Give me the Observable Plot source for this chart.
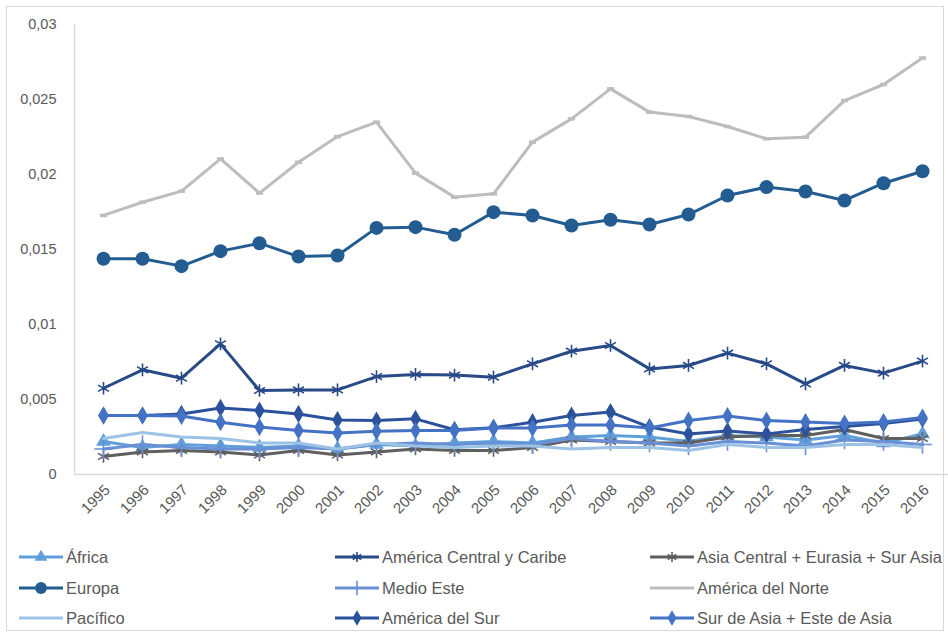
<!DOCTYPE html>
<html><head><meta charset="utf-8">
<script src="https://cdn.jsdelivr.net/npm/d3@7"></script>
<script src="https://cdn.jsdelivr.net/npm/@observablehq/plot@0.6"></script>
<style>
body{margin:0;background:#fff;}
#frame{position:absolute;left:6px;top:6px;width:938px;height:625px;border:1px solid #d9d9d9;box-sizing:border-box;}
#chart{position:absolute;left:0;top:0;}
#legend{position:absolute;left:0;top:0;font-family:"Liberation Sans",Arial,sans-serif;font-size:16.5px;color:#595959;}
.item{position:absolute;display:flex;align-items:center;white-space:nowrap;height:20px;}
.item svg{margin-right:2px;}
</style></head><body>
<div id="frame"></div><div id="chart"></div><div id="legend"></div>
<script>
const years = ["1995","1996","1997","1998","1999","2000","2001","2002","2003","2004","2005","2006","2007","2008","2009","2010","2011","2012","2013","2014","2015","2016"];
const yTicks = [0, 0.005, 0.01, 0.015, 0.02, 0.025, 0.03];

const seriesNames = ["África","América Central y Caribe","Asia Central + Eurasia + Sur Asia","Europa","Medio Este","América del Norte","Pacífico","América del Sur","Sur de Asia + Este de Asia"];
const seriesColors = ["#5fa0da","#284a87","#5f5f5f","#235c91","#6990d4","#bdbdbd","#9cc3e6","#2c529b","#4472c4"];
const seriesSymbols = ["triangle","asterisk","asterisk","circle","plus","dash",null,"diamond","diamond"];

const africa = [0.0022,0.0018,0.0020,0.0019,0.0018,0.0019,0.0017,0.0020,0.0019,0.0021,0.0022,0.0021,0.0025,0.0026,0.0025,0.0022,0.0026,0.0025,0.0023,0.0026,0.0021,0.0027];
const centralCaribe = [0.00575,0.00698,0.00642,0.00871,0.0056,0.00564,0.00564,0.00653,0.00667,0.00663,0.00649,0.00738,0.00822,0.0086,0.00704,0.00727,0.00809,0.00738,0.00604,0.00727,0.00676,0.00756];
const asiaCentral = [0.0012,0.0015,0.0016,0.0015,0.0013,0.0016,0.0013,0.0015,0.0017,0.0016,0.0016,0.0018,0.0023,0.0022,0.0021,0.0021,0.0025,0.0026,0.0026,0.0030,0.0024,0.0024];
const europa = [0.01438,0.01438,0.01389,0.01489,0.01542,0.01453,0.0146,0.01644,0.01649,0.01598,0.01749,0.01727,0.0166,0.01698,0.01667,0.01733,0.0186,0.01916,0.01887,0.01827,0.01942,0.02022];
const medioEste = [0.0017,0.0020,0.0018,0.0017,0.0017,0.0018,0.0017,0.0020,0.0021,0.0020,0.0021,0.0020,0.0024,0.0022,0.0021,0.0019,0.0022,0.0021,0.0019,0.0023,0.0022,0.0020];
const norte = [0.01727,0.01815,0.01889,0.02104,0.01876,0.02082,0.02253,0.02349,0.02009,0.01849,0.01871,0.02216,0.02371,0.02571,0.02416,0.02387,0.0232,0.02238,0.02249,0.02493,0.026,0.02776];
const pacifico = [0.0024,0.0028,0.0025,0.0024,0.0021,0.0021,0.0017,0.0021,0.0019,0.0018,0.0019,0.0019,0.0017,0.0018,0.0018,0.0016,0.0020,0.0018,0.0018,0.0020,0.0020,0.0018];
const delSur = [0.00393,0.00393,0.00404,0.00444,0.00427,0.00404,0.00364,0.0036,0.00371,0.00298,0.00311,0.00349,0.00393,0.00416,0.00316,0.0027,0.0029,0.0027,0.0030,0.0032,0.0034,0.0037];
const surEsteAsia = [0.00393,0.00393,0.0039,0.00349,0.00316,0.00293,0.00276,0.00289,0.00293,0.00293,0.0031,0.0031,0.0033,0.0033,0.0031,0.0036,0.0039,0.0036,0.0035,0.0034,0.0035,0.0038];

const seriesValues = [africa, centralCaribe, asiaCentral, europa, medioEste, norte, pacifico, delSur, surEsteAsia];

const fmt = d => String(d).replace(".", ",");
const dashSymbol = {draw(ctx, size) { const w = Math.sqrt(size) / 2; ctx.moveTo(-w, 0); ctx.lineTo(w, 0); }};

const marks = [
  Plot.frame({anchor:"left", stroke:"#d9d9d9", strokeWidth:1.3}),
  Plot.ruleY([0], {stroke:"#d9d9d9", strokeWidth:1.5}),
  Plot.axisY({ticks: yTicks, tickSize:0, tickPadding:18, tickFormat: fmt, fontSize:14.5, fill:"#595959", label:null}),
  Plot.axisX({tickSize:0, tickPadding:13, tickRotate:-45, fontSize:15, fill:"#595959", label:null, dx:4, style:{letterSpacing:"2.5px"}})
];

seriesNames.forEach((name, i) => {
  const data = years.map((y, j) => ({year: y, value: seriesValues[i][j]}));
  const color = seriesColors[i];
  marks.push(Plot.line(data, {x:"year", y:"value", stroke: color, strokeWidth: 3, strokeLinejoin:"round"}));
  const sym = seriesSymbols[i];
  if (sym === "circle") {
    marks.push(Plot.dot(data, {x:"year", y:"value", symbol:"circle", r:7, fill:color}));
  } else if (sym === "triangle" || sym === "diamond") {
    marks.push(Plot.dot(data, {x:"year", y:"value", symbol:sym, r:5.5, fill:color}));
  } else if (sym === "asterisk" || sym === "plus") {
    marks.push(Plot.dot(data, {x:"year", y:"value", symbol:sym, r:6, stroke:color, strokeWidth:1.6}));
  } else if (sym === "dash") {
    marks.push(Plot.dot(data, {x:"year", y:"value", symbol:dashSymbol, r:4, stroke:color, strokeWidth:3.5}));
  }
});

const chart = Plot.plot({
  width: 948,
  height: 540,
  marginLeft: 74,
  marginRight: 0,
  marginTop: 24,
  marginBottom: 66,
  style: {fontFamily: '"Liberation Sans", Arial, sans-serif', background:"transparent"},
  x: {type:"point", domain: years, range:[74, 950], padding:0.5},
  y: {domain:[0, 0.03], range:[474, 24]},
  marks
});
document.getElementById("chart").appendChild(chart);

// Legend
const legendCols = [18, 334, 649];
const legendRows = [557, 588, 618];
const legend = d3.select("#legend");
const symMap = {triangle: d3.symbolTriangle, asterisk: d3.symbolAsterisk, circle: d3.symbolCircle, plus: d3.symbolPlus, diamond: d3.symbolDiamond};
seriesNames.forEach((name, i) => {
  const col = i % 3, row = Math.floor(i / 3);
  const item = legend.append("div").attr("class","item")
    .style("left", legendCols[col] + "px")
    .style("top", (legendRows[row] - 10) + "px");
  const svg = item.append("svg").attr("width", 46).attr("height", 20);
  svg.append("line").attr("x1",1).attr("x2",45).attr("y1",10).attr("y2",10)
    .attr("stroke", seriesColors[i]).attr("stroke-width",3);
  const sym = seriesSymbols[i];
  if (sym && symMap[sym]) {
    const size = sym === "circle" ? 110 : 70;
    const p = svg.append("path").attr("transform","translate(23,10)")
      .attr("d", d3.symbol(symMap[sym], size)());
    if (sym === "asterisk" || sym === "plus") p.attr("fill","none").attr("stroke", seriesColors[i]).attr("stroke-width",1.6);
    else p.attr("fill", seriesColors[i]);
  }
  item.append("span").text(name);
});
</script>
</body></html>
